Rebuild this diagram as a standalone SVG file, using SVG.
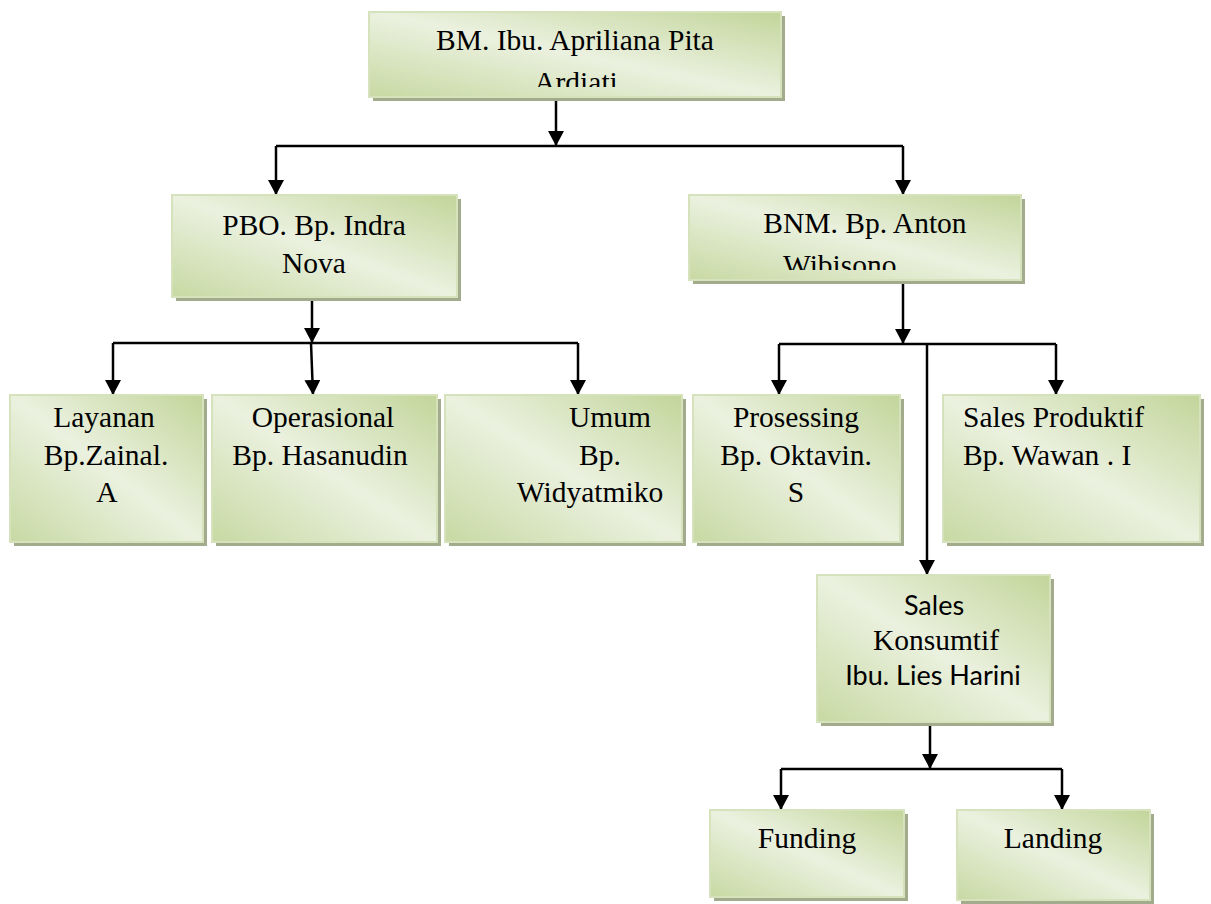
<svg xmlns="http://www.w3.org/2000/svg" width="1211" height="904" viewBox="0 0 1211 904">
<defs>
  <linearGradient id="g" x1="1" y1="0" x2="0" y2="1">
    <stop offset="0" stop-color="#c2d59a"/>
    <stop offset="0.5" stop-color="#ebf1df"/>
    <stop offset="1" stop-color="#c7d9a3"/>
  </linearGradient>
  <marker id="ah" markerWidth="16" markerHeight="16" refX="15" refY="8" orient="auto" markerUnits="userSpaceOnUse">
    <path d="M0,0 L15,8 L0,16 Z" fill="#000"/>
  </marker>
  <clipPath id="cbm"><rect x="369" y="12" width="412" height="75"/></clipPath>
  <clipPath id="cbnm"><rect x="689" y="195" width="332" height="75"/></clipPath>
</defs>
<style>
  .sh { fill: #a3ab8d; }
  .bx { fill: url(#g); stroke: #d5e2bb; stroke-width: 2; }
  .t { font-family: "Liberation Serif", "Times New Roman", serif; font-size: 29.5px; fill: #000; }
  .c { text-anchor: middle; }
  .s { font-family: Lato, "Liberation Sans", Arial, sans-serif; font-size: 27px; fill: #000; text-anchor: middle; }
  .ln { fill: none; stroke: #000; stroke-width: 2.5; }
</style>
<rect width="1211" height="904" fill="#fff"/>

<g id="connectors">
  <path class="ln" d="M556,97 V146" marker-end="url(#ah)"/>
  <path class="ln" d="M276,146 H903"/>
  <path class="ln" d="M276,146 V195" marker-end="url(#ah)"/>
  <path class="ln" d="M903,146 V195" marker-end="url(#ah)"/>

  <path class="ln" d="M312,297 V343" marker-end="url(#ah)"/>
  <path class="ln" d="M113,343 H578"/>
  <path class="ln" d="M113,343 V395" marker-end="url(#ah)"/>
  <path class="ln" d="M311,343 L313,395" marker-end="url(#ah)"/>
  <path class="ln" d="M578,343 V395" marker-end="url(#ah)"/>

  <path class="ln" d="M903,280 V344" marker-end="url(#ah)"/>
  <path class="ln" d="M779,344 H1056"/>
  <path class="ln" d="M779,344 V395" marker-end="url(#ah)"/>
  <path class="ln" d="M1056,344 V395" marker-end="url(#ah)"/>
  <path class="ln" d="M927,344 V575" marker-end="url(#ah)"/>

  <path class="ln" d="M930,722 V769" marker-end="url(#ah)"/>
  <path class="ln" d="M781,769 H1062"/>
  <path class="ln" d="M781,769 V810" marker-end="url(#ah)"/>
  <path class="ln" d="M1062,769 V810" marker-end="url(#ah)"/>
</g>

<g id="bm">
  <rect class="sh" x="373" y="16" width="412" height="85"/>
  <rect class="bx" x="369" y="12" width="412" height="85"/>
  <g clip-path="url(#cbm)">
    <text class="t c" x="575" y="50">BM. Ibu. Apriliana Pita</text>
    <text class="t c" x="576" y="92">Ardiati</text>
  </g>
</g>

<g id="pbo">
  <rect class="sh" x="176" y="199" width="285" height="102"/>
  <rect class="bx" x="172" y="195" width="285" height="102"/>
  <text class="t c" x="314" y="235">PBO. Bp. Indra</text>
  <text class="t c" x="314" y="273">Nova</text>
</g>

<g id="bnm">
  <rect class="sh" x="693" y="199" width="332" height="85"/>
  <rect class="bx" x="689" y="195" width="332" height="85"/>
  <g clip-path="url(#cbnm)">
    <text class="t c" x="865" y="233">BNM. Bp. Anton</text>
    <text class="t" x="783" y="275" font-size="32">Wibisono</text>
  </g>
</g>

<g id="layanan">
  <rect class="sh" x="14" y="399" width="193" height="147"/>
  <rect class="bx" x="10" y="395" width="193" height="147"/>
  <text class="t c" x="104" y="427">Layanan</text>
  <text class="t c" x="106" y="465">Bp.Zainal.</text>
  <text class="t c" x="107" y="502">A</text>
</g>

<g id="operasional">
  <rect class="sh" x="216" y="399" width="225" height="147"/>
  <rect class="bx" x="212" y="395" width="225" height="147"/>
  <text class="t c" x="323" y="427">Operasional</text>
  <text class="t c" x="320" y="465">Bp. Hasanudin</text>
</g>

<g id="umum">
  <rect class="sh" x="449" y="399" width="237" height="147"/>
  <rect class="bx" x="445" y="395" width="237" height="147"/>
  <text class="t c" x="610" y="427">Umum</text>
  <text class="t c" x="600" y="465">Bp.</text>
  <text class="t c" x="590" y="502">Widyatmiko</text>
</g>

<g id="prosessing">
  <rect class="sh" x="697" y="399" width="207" height="147"/>
  <rect class="bx" x="693" y="395" width="207" height="147"/>
  <text class="t c" x="796" y="427">Prosessing</text>
  <text class="t c" x="796" y="465">Bp. Oktavin.</text>
  <text class="t c" x="796" y="502">S</text>
</g>

<g id="sales-produktif">
  <rect class="sh" x="947" y="399" width="257" height="147"/>
  <rect class="bx" x="943" y="395" width="257" height="147"/>
  <text class="t" x="963" y="427">Sales Produktif</text>
  <text class="t" x="963" y="465">Bp. Wawan . I</text>
</g>

<g id="sales-konsumtif">
  <rect class="sh" x="821" y="579" width="233" height="147"/>
  <rect class="bx" x="817" y="575" width="233" height="147"/>
  <text class="s" x="934" y="615">Sales</text>
  <text class="t c" x="936" y="650" font-size="31">Konsumtif</text>
  <text class="s" x="933" y="685">Ibu. Lies Harini</text>
</g>

<g id="funding">
  <rect class="sh" x="714" y="814" width="194" height="87"/>
  <rect class="bx" x="710" y="810" width="194" height="87"/>
  <text class="t c" x="807" y="848">Funding</text>
</g>

<g id="landing">
  <rect class="sh" x="961" y="814" width="193" height="90"/>
  <rect class="bx" x="957" y="810" width="193" height="90"/>
  <text class="t c" x="1053" y="848">Landing</text>
</g>
</svg>
